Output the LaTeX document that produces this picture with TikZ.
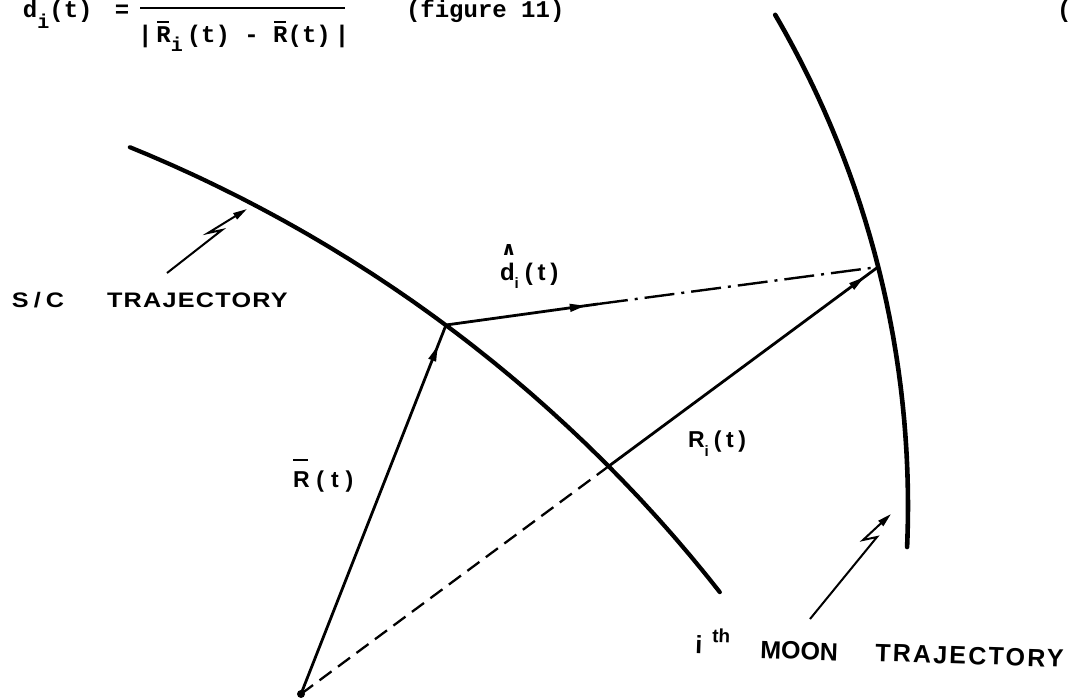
\documentclass[tikz,border=0pt]{standalone}
\usepackage{fontspec}
\setmainfont{Liberation Sans}
\newfontfamily\lblfont{Liberation Sans}
\newfontfamily\eqfont{Liberation Mono}
\newfontfamily\symfont{DejaVu Sans}
\usetikzlibrary{arrows.meta,decorations.markings}
\newcommand\sz[1]{\fontsize{#1}{#1}\selectfont}
\newcommand\ls[1]{\addfontfeature{LetterSpace=#1}}
\newcommand\ovl[3]{\rlap{\kern#3\raisebox{#1}{\rule{#2}{2pt}}}}
\begin{document}
\begin{tikzpicture}[x=1pt,y=-1pt,
  txt/.style={inner sep=0pt, outer sep=0pt, anchor=base west},
  eq/.style={txt, font=\eqfont\bfseries\sz{24}},
  traj/.style={line width=4.2pt, line cap=round, line join=round},
  vec/.style={line width=2.8pt},
  ptr/.style={line width=2pt, line join=miter, -{Triangle[length=14pt,width=7pt]}},
  headat/.style={postaction={decorate}, decoration={markings, mark=at position #1 with {\arrow{Triangle[length=16pt,width=7.5pt]}}}},
]
\useasboundingbox (0,0) rectangle (1072,699);
\clip (0,0) rectangle (1072,699);

% key points
\coordinate (O) at (301,694);
\coordinate (P) at (446,325);
\coordinate (M) at (878,267);
\coordinate (X) at (609,466);
\coordinate (D) at (598,304);

% trajectories (circular arcs, centres found from the reference)
\draw[traj] plot[domain=-67.84:-38.11, samples=80] ({-413.2+1440*cos(\x)}, {1480.8+1440*sin(\x)});
\draw[traj, line width=4.6pt] plot[domain=-30.25:2.41, samples=80] ({-67+975*cos(\x)}, {506+975*sin(\x)});

% vectors
\draw[vec, headat=0.945] (O) -- (P);
\draw[vec, headat=0.92] (P) -- (D);
\draw[vec, line width=2.4pt, dash pattern=on 30pt off 7pt on 3pt off 7pt] (D) -- (M);
\draw[vec, line width=2.3pt, dash pattern=on 15pt off 8pt] (O) -- (X);
\draw[vec, headat=0.95] (X) -- (M);
\fill (O) circle (4pt);

% label pointers
\coordinate (scA) at (167,273);
\coordinate (scB) at (222,230);
\coordinate (scC) at (208,233);
\coordinate (scD) at (247,209);
\draw[ptr] (scA) -- (scB) -- (scC) -- (scD);
\coordinate (mnA) at (810,619);
\coordinate (mnB) at (877,537);
\coordinate (mnC) at (863,540);
\coordinate (mnD) at (891,514);
\draw[ptr] (mnA) -- (mnB) -- (mnC) -- (mnD);

% formula at top
\node[eq] (eqL) at (23,17) {d\raisebox{-11pt}{\sz{20}i}(t)\hspace{8pt} =};
\coordinate (fl1) at (140,8);
\coordinate (fl2) at (345,8);
\draw[line width=2.2pt] (fl1) -- (fl2);
\node[eq] (den) at (138,42) {|\kern4pt\ovl{19pt}{12pt}{1pt}R\raisebox{-9pt}{\sz{20}i}\kern4pt(t) - \ovl{19pt}{12pt}{1pt}R(t)\kern4pt|};
\node[eq] (fig) at (406,17) {(figure 11)};
\node[eq] (paren) at (1057,17) {(};

% labels
\node[txt, font=\lblfont\bfseries\sz{21}\ls{20}] (sc1) at (12,307) {\scalebox{1.2}[1]{S/C}};
\node[txt, font=\lblfont\bfseries\sz{21}\ls{5}] (sc2) at (107,307) {\scalebox{1.2}[1]{TRAJECTORY}};
\node[txt, font=\symfont\bfseries\sz{19}] (dhat) at (501,255) {∧};
\node[txt, font=\lblfont\bfseries\sz{24}\ls{20}] (dlbl) at (500,280) {d\raisebox{-8pt}{\sz{15}i}\kern6pt(t)};
\node[txt, font=\lblfont\bfseries\sz{23}\ls{30}] (Rlbl) at (293,487) {\ovl{26pt}{15pt}{0pt}R(t)};
\node[txt, font=\lblfont\bfseries\sz{23}\ls{20}] (Rilbl) at (688,447) {R\raisebox{-9pt}{\sz{15}i}\kern5pt(t)};
\node[txt, rotate=-2, font=\lblfont\bfseries\sz{25}] (ilbl) at (695,653) {i};
\node[txt, rotate=-2, font=\lblfont\bfseries\sz{19}] (thlbl) at (712,642) {th};
\node[txt, rotate=-2, font=\lblfont\bfseries\sz{25}] (moon) at (760,658) {MOON};
\node[txt, rotate=-2, font=\lblfont\bfseries\sz{25}\ls{9}] (mtraj) at (875,661) {TRAJECTORY};
\end{tikzpicture}
\end{document}
